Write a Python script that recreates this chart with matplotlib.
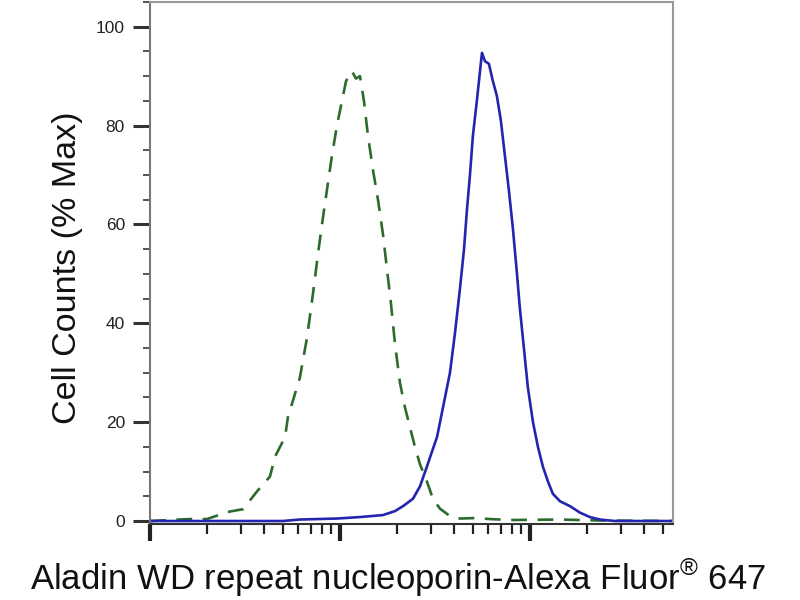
import numpy as np
import matplotlib
matplotlib.use("Agg")
import matplotlib.pyplot as plt
from matplotlib.ticker import LogLocator, NullFormatter, MultipleLocator

plt.rcParams['font.family'] = ['Liberation Sans', 'DejaVu Sans']
plt.rcParams['mathtext.fontset'] = 'custom'
plt.rcParams['mathtext.rm'] = 'Liberation Sans'

# Isotype control (green dashed)
ctrl_x = [100, 162, 200, 254, 309, 366, 428, 455, 514, 532, 615, 670, 721, 766,
          804, 854, 908, 964, 1025, 1076, 1157, 1214, 1274, 1337, 1403, 1492,
          1585, 1684, 1767, 1855, 1946, 2068, 2198, 2335, 2481, 2636, 2868,
          3085, 3358, 3793, 4281, 5136, 6155, 7849, 14389, 23357, 56650]
ctrl_y = [0, 0.4, 0.4, 1.8, 2.4, 6, 9, 13, 17, 21, 29, 37, 46, 54,
          60, 67, 74, 80, 85, 89, 91, 89.5, 90, 85, 78, 71,
          65, 58, 51, 44, 36, 28, 23, 19, 15, 11.5, 8,
          4.5, 2.5, 1, 0.5, 0.6, 0.4, 0.2, 0.3, 0.1, 0]

# Aladin stained sample (blue solid)
stain_x = [100, 501, 615, 964, 1274, 1684, 1946, 2146, 2422, 2636, 2868, 3047,
           3243, 3486, 3793, 4030, 4281, 4497, 4661, 4832, 5010, 5255, 5458,
           5590, 5800, 6080, 6380, 6697, 7029, 7376, 7743, 8141, 8546, 8851,
           9290, 9752, 10374, 11016, 11699, 12436, 13207, 14389, 16255, 18321,
           20677, 23357, 28000, 56650]
stain_y = [0, 0, 0.3, 0.5, 0.8, 1.2, 2, 3, 4.5, 7, 11, 14,
           17, 23, 30, 38, 47, 55, 63, 70, 78, 85, 91,
           94.7, 93, 92.5, 89, 86, 81, 74, 67, 59, 50, 43,
           35, 27, 20, 15, 11, 8, 5.5, 4, 3, 1.7,
           0.8, 0.3, 0, 0]

fig = plt.figure(figsize=(8, 6), dpi=100)
ax = fig.add_axes([0.1875, 0.1267, 0.6538, 0.87])

ax.plot(ctrl_x, ctrl_y, color="#2d6b2d", lw=1.9, dashes=(6, 4))
ax.plot(stain_x, stain_y, color="#2424b0", lw=1.9)

ax.set_xscale("log")
ax.set_xlim(100, 56650)
ax.set_ylim(-0.6, 105)

ax.xaxis.set_major_locator(LogLocator(base=10))
ax.xaxis.set_minor_locator(LogLocator(base=10, subs=np.arange(2, 10)))
ax.xaxis.set_major_formatter(NullFormatter())
ax.xaxis.set_minor_formatter(NullFormatter())
ax.yaxis.set_major_locator(MultipleLocator(20))
ax.yaxis.set_minor_locator(MultipleLocator(5))

ax.tick_params(axis="x", which="major", length=12, width=3, direction="out", color="#222222")
ax.tick_params(axis="x", which="minor", length=7, width=1.6, direction="out", color="#222222")
ax.tick_params(axis="y", which="major", length=12, width=2.2, direction="out",
               color="#333333", labelsize=12.5, labelcolor="#222222", pad=6)
ax.tick_params(axis="y", which="minor", length=5, width=1.4, direction="out", color="#555555")

for side in ["top", "right"]:
    ax.spines[side].set_color("#999999")
    ax.spines[side].set_linewidth(1.5)
ax.spines["left"].set_color("#777777")
ax.spines["left"].set_linewidth(1.5)
ax.spines["bottom"].set_color("#333333")
ax.spines["bottom"].set_linewidth(1.5)

fig.text(0.084, 0.553, "Cell Counts (% Max)", rotation=90, fontsize=24.5,
         ha="center", va="center", color="#111111")
fig.text(0.497, 0.037, r"Aladin WD repeat nucleoporin-Alexa Fluor$^{\mathrm{®}}$ 647",
         fontsize=25, ha="center", va="center", color="#111111")

fig.savefig("out.png", dpi=100)
